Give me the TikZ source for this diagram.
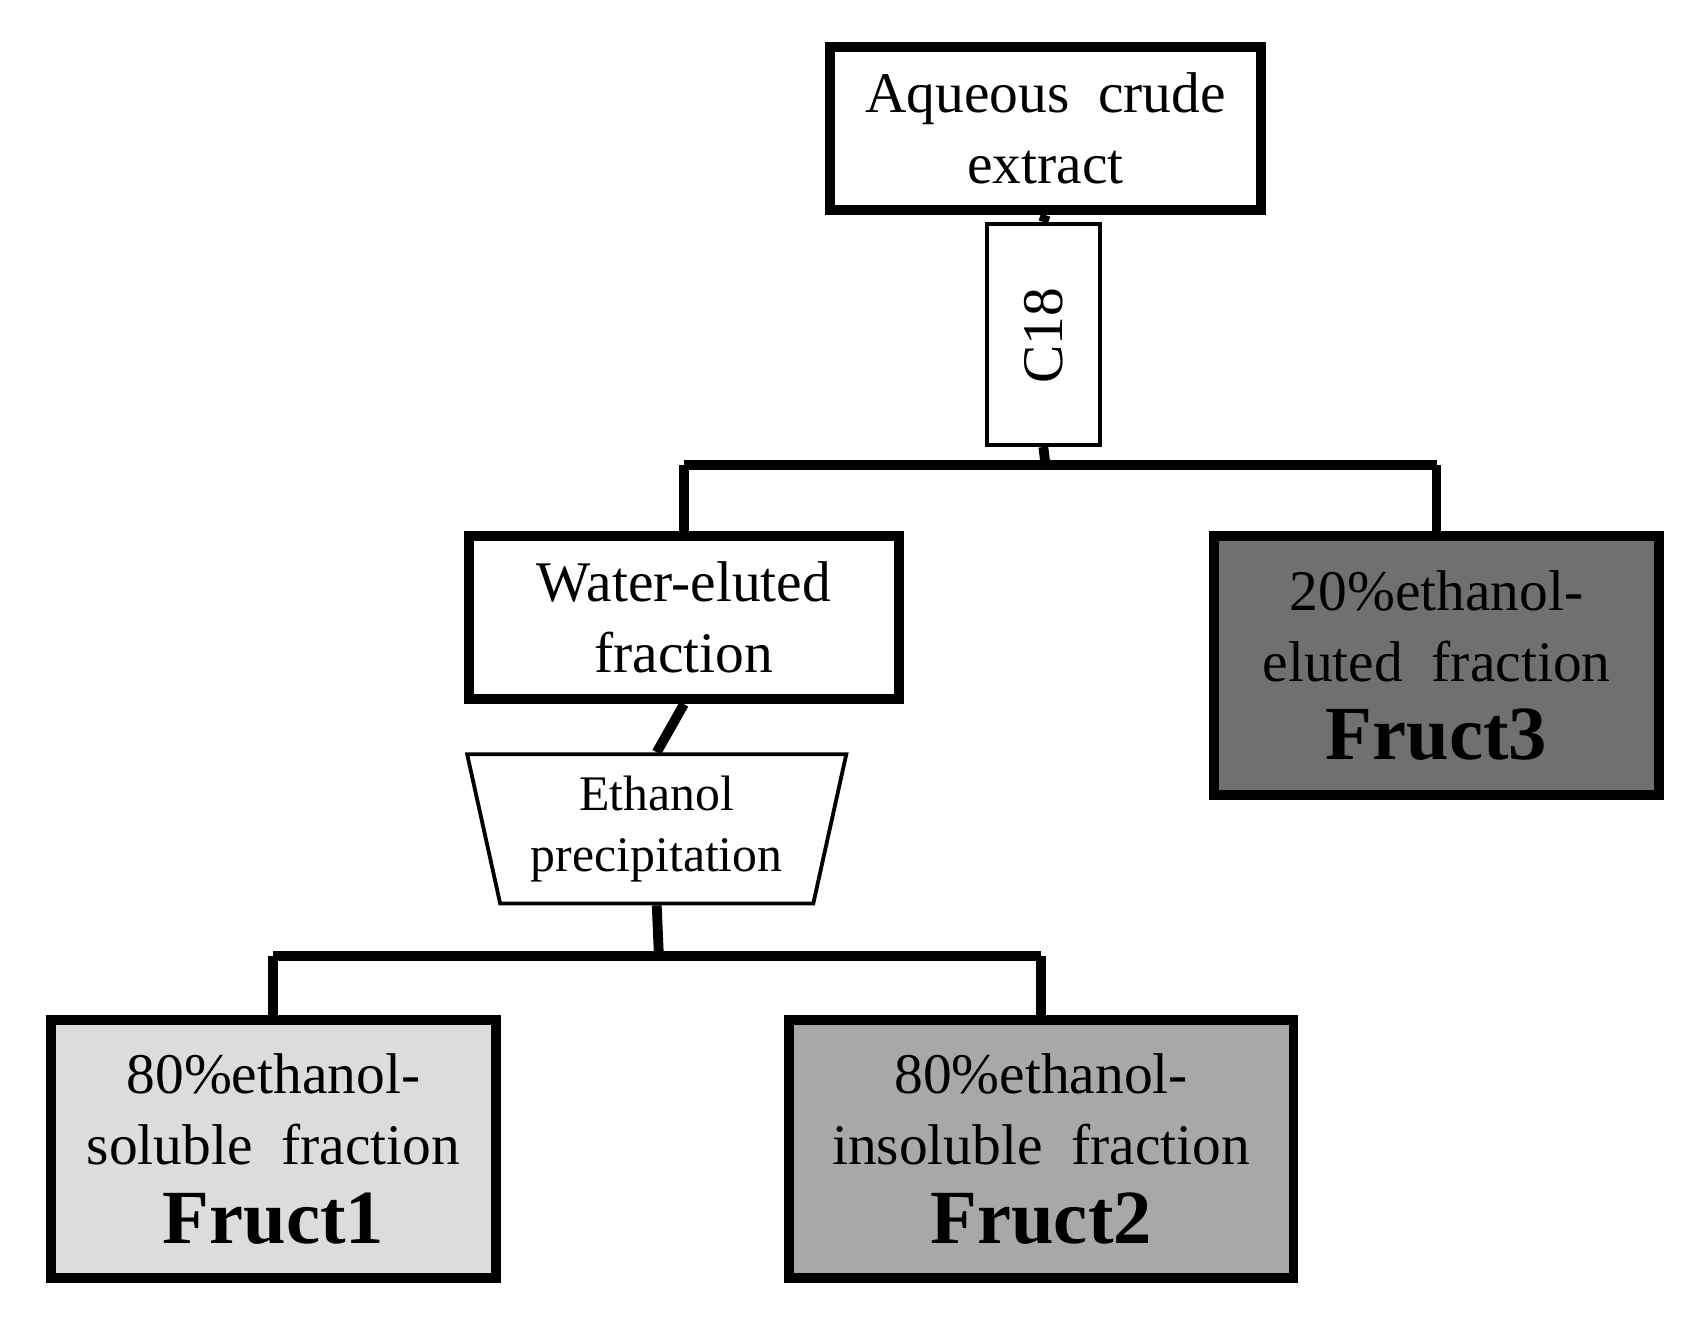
\documentclass[tikz,border=0pt]{standalone}
\usepackage{fontspec}
\setmainfont{Liberation Serif}
\usetikzlibrary{shapes.geometric}
\usetikzlibrary{positioning}

\begin{document}
\begin{tikzpicture}[x=0.01cm, y=-0.01cm]
	\definecolor{WHITE}{RGB}{255, 255, 255}
	\definecolor{LIGHT_GRAY}{RGB}{220, 220, 220}
	\definecolor{MID_GRAY}{RGB}{168, 168, 168}
	\definecolor{DARK_GRAY}{RGB}{112, 112, 112}
	\tikzset{
		box/.style={draw, line width={0.9mm}, inner sep=0pt, align=center,
			font=\fontsize{15}{18.5}\selectfont},
		column/.style={draw, line width={0.35mm}, cylinder, shape border rotate=90,
			aspect=0.35, inner sep=0pt, minimum width={1.04cm}, minimum height={2.03cm}},
		funnel/.style={draw, line width={0.35mm}, trapezium, shape border rotate=180,
			trapezium left angle=76, trapezium right angle=76, trapezium stretches=true,
			inner sep=0pt, minimum width={3.5cm}, minimum height={1.37cm}, align=center,
			font=\fontsize{13}{16}\selectfont},
		link/.style={line width={0.9mm}}
	}
	\useasboundingbox (0,0) rectangle (1560,1221);

	\node[box, fill={WHITE!100}, minimum width={3.95cm}, minimum height={1.5cm}] (crude) at (960,118) {Aqueous\ \ crude\\extract};
	\node[column] (cfour) at (958,308) {};
	\node[rotate=90, font=\fontsize{15}{18}\selectfont] (ctext) at (cfour.center) {C18};
	\node[box, fill={WHITE!100}, minimum width={3.95cm}, minimum height={1.5cm}] (water) at (628,567) {Water-eluted\\fraction};
	\node[box, fill={DARK_GRAY!100}, minimum width={4.08cm}, minimum height={2.38cm}] (fructC) at (1319,611) {20\%ethanol-\\eluted\ \ fraction\\[2pt]\textbf{\fontsize{20}{22}\selectfont Fruct3}};
	\node[funnel, fill={WHITE!100}] (ethanol) at (603,761) {Ethanol\\precipitation};
	\node[box, fill={LIGHT_GRAY!100}, minimum width={4.08cm}, minimum height={2.37cm}] (fructA) at (251,1055) {80\%ethanol-\\soluble\ \ fraction\\[2pt]\textbf{\fontsize{20}{22}\selectfont Fruct1}};
	\node[box, fill={MID_GRAY!100}, minimum width={4.63cm}, minimum height={2.37cm}] (fructB) at (956,1055) {80\%ethanol-\\insoluble\ \ fraction\\[2pt]\textbf{\fontsize{20}{22}\selectfont Fruct2}};

	\coordinate (splitA) at (960,427);
	\coordinate (splitB) at (605,878);

	\draw[link] (crude.south) -- (cfour.top);
	\draw[link] (cfour.bottom) -- (splitA);
	\draw[link] (water.north |- splitA) -- (fructC.north |- splitA);
	\draw[link] (water.north |- splitA) -- (water.north);
	\draw[link] (fructC.north |- splitA) -- (fructC.north);
	\draw[link] (water.south) -- (ethanol.bottom side);
	\draw[link] (ethanol.top side) -- (splitB);
	\draw[link] (fructA.north |- splitB) -- (fructB.north |- splitB);
	\draw[link] (fructA.north |- splitB) -- (fructA.north);
	\draw[link] (fructB.north |- splitB) -- (fructB.north);
\end{tikzpicture}
\end{document}
